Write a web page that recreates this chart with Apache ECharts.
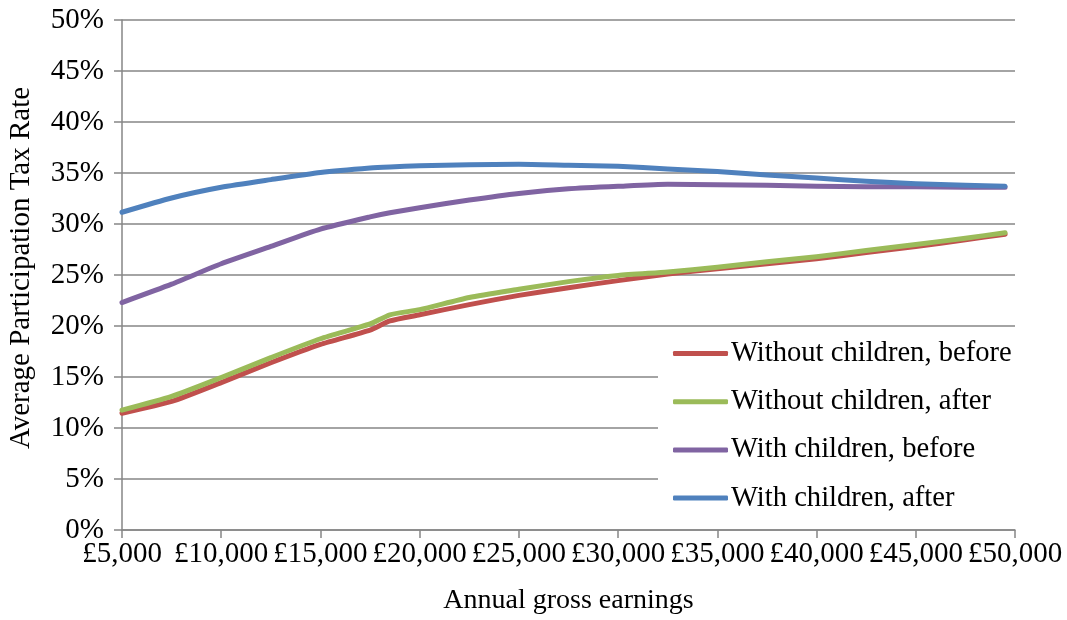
<!DOCTYPE html>
<html>
<head>
<meta charset="utf-8">
<script src="https://cdn.jsdelivr.net/npm/echarts@6/dist/echarts.min.js"></script>
<style>
  html, body { margin: 0; padding: 0; background: #fff; }
  #chart { width: 1067px; height: 620px; }
</style>
</head>
<body>
<div id="chart"></div>
<script>
// annual gross earnings (£)
var earnings = [5000, 7500, 10000, 12500, 15000, 17500, 18500, 20000, 22500, 25000,
  27500, 30000, 32500, 35000, 37500, 40000, 42500, 45000, 47500, 49500];

// average participation tax rate, %
var noKidsBefore = [11.45, 12.6, 14.45, 16.4, 18.2, 19.6, 20.5, 21.1, 22.1, 23.0,
  23.75, 24.45, 25.1, 25.6, 26.1, 26.6, 27.2, 27.8, 28.45, 29.0];
var noKidsAfter = [11.75, 13.1, 14.95, 16.9, 18.75, 20.2, 21.1, 21.6, 22.8, 23.6,
  24.35, 24.95, 25.3, 25.75, 26.3, 26.8, 27.4, 28.0, 28.6, 29.15];
var kidsBefore = [22.3, 24.1, 26.1, 27.8, 29.5, 30.7, 31.1, 31.6, 32.35, 33.0,
  33.45, 33.7, 33.9, 33.85, 33.8, 33.7, 33.65, 33.65, 33.6, 33.6];
var kidsAfter = [31.15, 32.55, 33.6, 34.35, 35.05, 35.5, 35.6, 35.7, 35.8, 35.85,
  35.75, 35.65, 35.4, 35.15, 34.8, 34.5, 34.2, 33.95, 33.8, 33.7];

var seriesNames = ['Without children, before', 'Without children, after',
  'With children, before', 'With children, after'];
var seriesColors = ['#C0504D', '#9BBB59', '#8064A2', '#4F81BD'];
var seriesData = [noKidsBefore, noKidsAfter, kidsBefore, kidsAfter];

const axisGrey = '#868686';
const font = '"Liberation Serif", serif';

var chart = echarts.init(document.getElementById('chart'));

function pounds(v) {
  return '£' + String(v).replace(/\B(?=(\d{3})+(?!\d))/g, ',');
}

var series = seriesData.map(function (vals, i) {
  return {
    name: seriesNames[i],
    type: 'line',
    symbol: 'none',
    smooth: 0.2,
    lineStyle: { width: 5, color: seriesColors[i], cap: 'round', join: 'round' },
    itemStyle: { color: seriesColors[i] },
    data: earnings.map(function (x, k) { return [x, vals[k]]; })
  };
});

chart.setOption({
  animation: false,
  textStyle: { fontFamily: font },
  grid: { left: 122, right: 52, top: 20, bottom: 90, outerBoundsMode: 'none', containLabel: false },
  legend: {
    orient: 'vertical',
    left: 658,
    top: 329,
    padding: [10, 4, 12, 15],
    backgroundColor: '#fff',
    itemWidth: 55,
    itemHeight: 5,
    itemGap: 19.2,
    icon: 'roundRect',
    textStyle: { fontFamily: font, fontSize: 28.6, color: '#000', padding: [0, 0, 0, -2] },
    data: seriesNames
  },
  xAxis: {
    type: 'value',
    min: 5000,
    max: 50000,
    interval: 5000,
    name: 'Annual gross earnings',
    nameLocation: 'middle',
    nameGap: 57,
    nameTextStyle: { fontFamily: font, fontSize: 28, color: '#000' },
    axisLine: { show: true, lineStyle: { color: axisGrey, width: 1.5 } },
    axisTick: { show: true, length: 8, inside: false, lineStyle: { color: axisGrey, width: 1.5 } },
    axisLabel: { fontFamily: font, fontSize: 29, color: '#000', margin: 10, formatter: pounds },
    splitLine: { show: false }
  },
  yAxis: {
    type: 'value',
    min: 0,
    max: 50,
    interval: 5,
    name: 'Average Participation Tax Rate',
    nameLocation: 'middle',
    nameGap: 86,
    nameTextStyle: { fontFamily: font, fontSize: 29, color: '#000', padding: [0, 0, 0, 14] },
    axisLine: { show: true, lineStyle: { color: axisGrey, width: 1.5 } },
    axisTick: { show: true, length: 8, lineStyle: { color: axisGrey, width: 1.5 } },
    axisLabel: { fontFamily: font, fontSize: 29, color: '#000', margin: 18, formatter: '{value}%' },
    splitLine: { show: true, lineStyle: { color: axisGrey, width: 1.5 } }
  },
  series: series
});
</script>
</body>
</html>
